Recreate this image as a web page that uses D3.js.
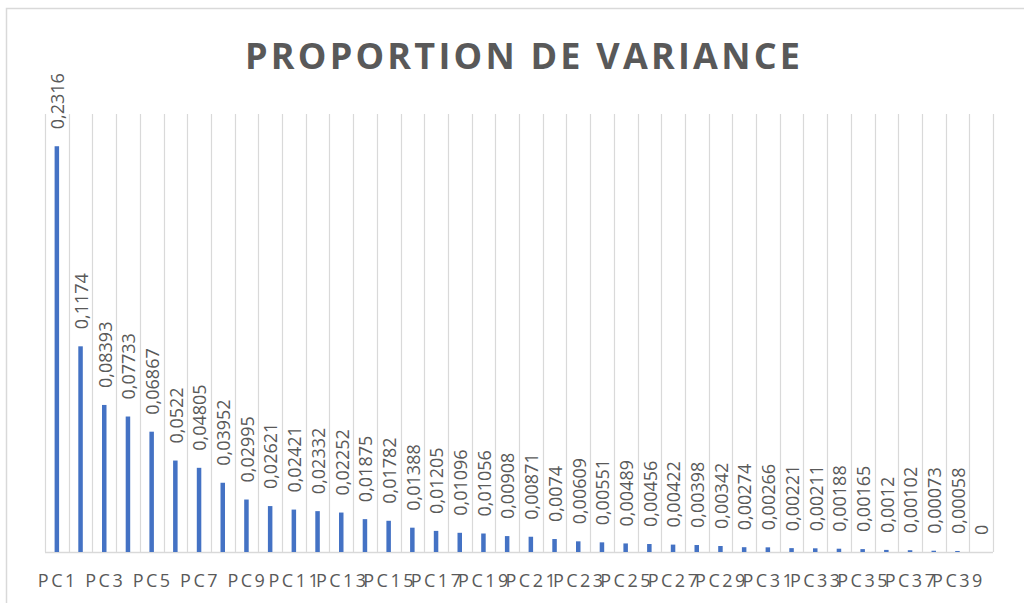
<!DOCTYPE html>
<html>
<head>
  <meta charset="utf-8">
  <script src="https://cdnjs.cloudflare.com/ajax/libs/d3/7.8.5/d3.min.js"></script>
  <style>
    html, body { margin: 0; padding: 0; background: #fff; }
    svg { display: block; font-family: "Open Sans", "DejaVu Sans", sans-serif; }
  </style>
</head>
<body>
<div id="chart"></div>
<script>
// proportion of variance per principal component
const components = d3.range(1, 41).map(i => "PC" + i);
const variance = [
  0.2316, 0.1174, 0.08393, 0.07733, 0.06867, 0.0522, 0.04805, 0.03952, 0.02995, 0.02621,
  0.02421, 0.02332, 0.02252, 0.01875, 0.01782, 0.01388, 0.01205, 0.01096, 0.01056, 0.00908,
  0.00871, 0.0074, 0.00609, 0.00551, 0.00489, 0.00456, 0.00422, 0.00398, 0.00342, 0.00274,
  0.00266, 0.00221, 0.00211, 0.00188, 0.00165, 0.0012, 0.00102, 0.00073, 0.00058, 0
];
const yDomain = [0, 0.25];
const title = "PROPORTION DE VARIANCE";

const width = 1024, height = 603;
const margin = { top: 114, right: 31, bottom: 51, left: 45 };

const svg = d3.select("#chart").append("svg")
  .attr("width", width)
  .attr("height", height);

// chart area border (runs off the right and bottom of the picture)
svg.append("rect")
  .attr("x", 6.5).attr("y", 8.5)
  .attr("width", 1040).attr("height", 620)
  .attr("fill", "none")
  .attr("stroke", "#d9d9d9")
  .attr("stroke-width", 1.5);

const x = d3.scaleBand()
  .domain(components)
  .range([margin.left, width - margin.right])
  .paddingInner(0).paddingOuter(0);

const y = d3.scaleLinear()
  .domain(yDomain)
  .range([height - margin.bottom, margin.top]);

// vertical gridlines at category boundaries
const edges = components.map(c => x(c)).concat([x.range()[1]]);
svg.append("g")
  .selectAll("line")
  .data(edges)
  .join("line")
    .attr("x1", d => Math.round(d) + 0.5)
    .attr("x2", d => Math.round(d) + 0.5)
    .attr("y1", y(yDomain[1]))
    .attr("y2", y(0))
    .attr("stroke", "#d9d9d9")
    .attr("stroke-width", 1.2);

// baseline
svg.append("line")
  .attr("x1", x.range()[0]).attr("x2", x.range()[1])
  .attr("y1", y(0) + 0.5).attr("y2", y(0) + 0.5)
  .attr("stroke", "#d9d9d9")
  .attr("stroke-width", 1.5);

const barW = 4.5;
const cx = c => x(c) + x.bandwidth() / 2;

svg.append("g")
  .selectAll("rect")
  .data(variance)
  .join("rect")
    .attr("x", (d, i) => cx(components[i]) - barW / 2)
    .attr("y", d => y(d))
    .attr("width", barW)
    .attr("height", d => y(0) - y(d))
    .attr("fill", "#4472c4");

// value labels, rotated
svg.append("g")
  .selectAll("text")
  .data(variance)
  .join("text")
    .attr("transform", (d, i) => `translate(${cx(components[i]) + 1},${y(d) - 17}) rotate(-90)`)
    .attr("dy", "0.35em")
    .attr("font-size", 18)
    .attr("fill", "#595959")
    .text(d => String(d).replace(".", ","));

// category labels, every other one
svg.append("g")
  .selectAll("text")
  .data(components.filter((c, i) => i % 2 === 0))
  .join("text")
    .attr("x", d => cx(d) + 1)
    .attr("y", 587)
    .attr("text-anchor", "middle")
    .attr("font-size", 18)
    .attr("letter-spacing", 2.5)
    .attr("fill", "#595959")
    .text(d => d);

svg.append("text")
  .attr("x", 522.5)
  .attr("y", 69)
  .attr("text-anchor", "middle")
  .attr("font-size", 36)
  .attr("font-weight", "bold")
  .attr("fill", "#595959")
  .attr("textLength", 555)
  .attr("lengthAdjust", "spacing")
  .text(title);
</script>
</body>
</html>
